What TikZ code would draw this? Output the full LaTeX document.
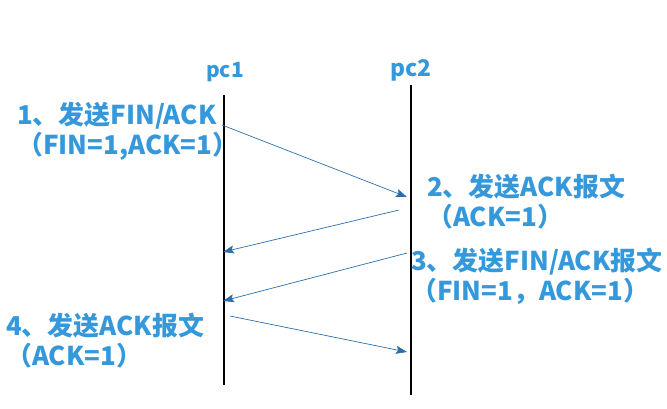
\documentclass[tikz,border=0pt]{standalone}
\usepackage{fontspec}
\setmainfont{Noto Sans CJK SC}
\usetikzlibrary{arrows.meta}

\definecolor{labelblue}{HTML}{3598DB}
\definecolor{msgblue}{HTML}{2C6FA8}

\begin{document}
\begin{tikzpicture}[x=1bp,y=-1bp]
\tikzset{
  lifeline/.style={draw=black,line width=1.1pt},
  message/.style={draw=msgblue,line width=0.7pt,-{Stealth[length=11bp,width=8bp,inset=2bp]}},
  hostlabel/.style={text=labelblue,inner sep=0pt,font=\bfseries\fontsize{21}{24}\selectfont},
  steplabel/.style={text=labelblue,inner sep=0pt,align=left,anchor=base west,font=\bfseries\fontsize{26}{30}\selectfont}
}
\useasboundingbox (0,0) rectangle (667,408);
% hosts
\node[hostlabel] (n_pc1) at (225,72) {pc1};
\node[hostlabel,font=\bfseries\fontsize{23}{26}\selectfont] (n_pc2) at (411,70) {pc2};
\coordinate (pc1_top) at (224,95);
\coordinate (pc1_bot) at (224,385);
\coordinate (pc2_top) at (411,85);
\coordinate (pc2_bot) at (411,395);
\draw[lifeline] (pc1_top) -- (pc1_bot);
\draw[lifeline] (pc2_top) -- (pc2_bot);
% messages
\coordinate (m1_a) at (222,125);
\coordinate (m1_b) at (407,197);
\coordinate (m2_a) at (399,210);
\coordinate (m2_b) at (223,252);
\coordinate (m3_a) at (407,253);
\coordinate (m3_b) at (223,301);
\coordinate (m4_a) at (230,316);
\coordinate (m4_b) at (407,352);
\draw[message] (m1_a) -- (m1_b);
\draw[message] (m2_a) -- (m2_b);
\draw[message] (m3_a) -- (m3_b);
\draw[message] (m4_a) -- (m4_b);
% step texts (anchored at the baseline of the second line)
\node[steplabel] (n_step1) at (17,154) {1、发送FIN/ACK\\（FIN=1,ACK=1）};
\node[steplabel] (n_step2) at (427,226) {2、发送ACK报文\\（ACK=1）};
\node[steplabel] (n_step3) at (411,300) {3、发送FIN/ACK报文\\（FIN=1，ACK=1）};
\node[steplabel] (n_step4) at (6,365) {4、发送ACK报文\\（ACK=1）};
\end{tikzpicture}
\end{document}
